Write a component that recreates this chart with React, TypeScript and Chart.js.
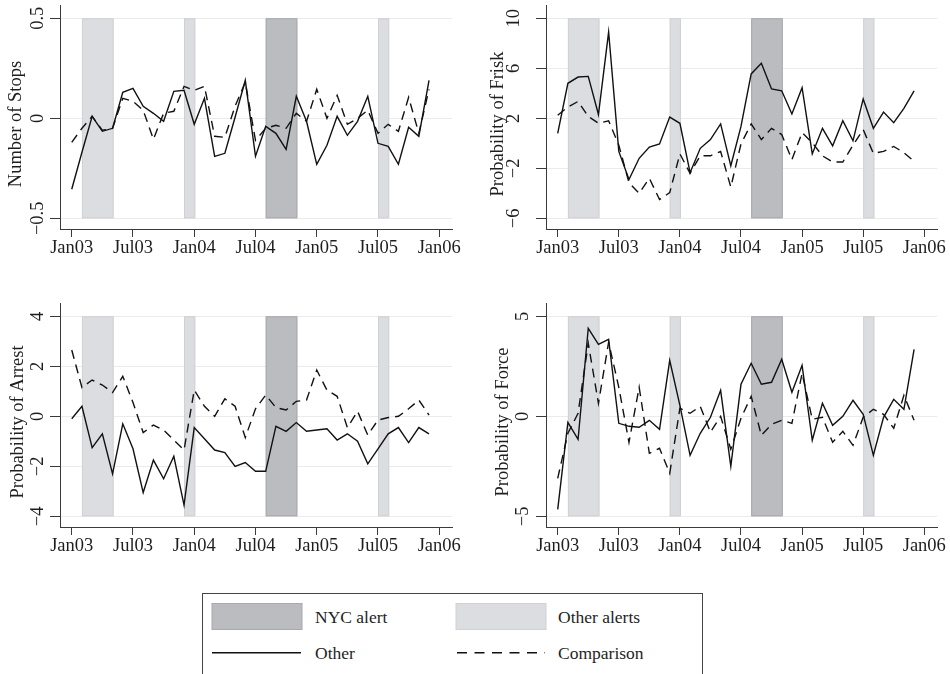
import React, { useEffect, useRef } from "react";
import { Chart, registerables } from "chart.js";

Chart.register(...registerables);

// Months Jan 2003 .. Dec 2005 (index 0..35)
const months = [
  "2003-01", "2003-02", "2003-03", "2003-04", "2003-05", "2003-06", "2003-07", "2003-08", "2003-09", "2003-10", "2003-11", "2003-12",
  "2004-01", "2004-02", "2004-03", "2004-04", "2004-05", "2004-06", "2004-07", "2004-08", "2004-09", "2004-10", "2004-11", "2004-12",
  "2005-01", "2005-02", "2005-03", "2005-04", "2005-05", "2005-06", "2005-07", "2005-08", "2005-09", "2005-10", "2005-11", "2005-12",
];

const xTickValues = [0, 6, 12, 18, 24, 30, 36];
const xTickLabels = ["Jan03", "Jul03", "Jan04", "Jul04", "Jan05", "Jul05", "Jan06"];

// Alert periods (month index)
const nycAlertStart = [19];
const nycAlertEnd = [22.1];
const otherAlertStart = [1, 11, 30];
const otherAlertEnd = [4.1, 12.1, 31.1];

// Number of Stops
const stopsOther = [
  -0.355, -0.17, 0.01, -0.065, -0.05, 0.13, 0.15, 0.06, 0.025, -0.015, 0.135, 0.14,
  -0.03, 0.1, -0.19, -0.175, 0.005, 0.19, -0.19, -0.04, -0.075, -0.155, 0.11, -0.015,
  -0.23, -0.135, 0.01, -0.085, -0.015, 0.11, -0.125, -0.14, -0.23, -0.045, -0.09, 0.19,
];
const stopsComparison = [
  -0.12, -0.05, 0.01, -0.06, -0.05, 0.1, 0.085, 0.04, -0.105, 0.025, 0.035, 0.16,
  0.14, 0.16, -0.09, -0.095, 0.06, 0.18, -0.11, -0.05, -0.035, -0.05, 0.025, -0.015,
  0.145, 0.0, 0.115, -0.03, 0.0, 0.04, -0.075, -0.03, -0.065, 0.105, -0.075, 0.145,
];
const stopsTicks = [-0.5, 0, 0.5];
const stopsTickLabels = ["\u22120.5", "0", "0.5"];

// Probability of Frisk
const friskOther = [
  0.8, 4.8, 5.3, 5.35, 2.3, 8.9, -0.65, -2.9, -1.2, -0.3, -0.05, 2.1,
  1.6, -2.35, -0.4, 0.3, 1.55, -1.8, 1.35, 5.55, 6.4, 4.35, 4.2, 2.35,
  4.45, -0.85, 1.2, -0.2, 1.8, 0.2, 3.55, 1.2, 2.5, 1.65, 2.8, 4.2,
];
const friskComparison = [
  2.25, 2.9, 3.35, 2.15, 1.6, 1.8, -0.15, -3.15, -4.0, -2.8, -4.5, -3.95,
  -0.85, -2.4, -1.0, -1.0, -0.65, -3.5, -0.05, 1.55, 0.3, 1.2, 0.7, -1.3,
  0.85, 0.05, -1.0, -1.5, -1.5, -0.15, 1.1, -0.8, -0.65, -0.25, -0.75, -1.45,
];
const friskTicks = [-6, -2, 2, 6, 10];
const friskTickLabels = ["\u22126", "\u22122", "2", "6", "10"];

// Probability of Arrest
const arrestOther = [
  -0.1, 0.4, -1.25, -0.7, -2.3, -0.3, -1.3, -3.05, -1.75, -2.5, -1.6, -3.55,
  -0.45, -0.9, -1.35, -1.45, -2.0, -1.85, -2.2, -2.2, -0.4, -0.6, -0.25, -0.6,
  -0.55, -0.5, -0.95, -0.7, -1.0, -1.9, -1.3, -0.7, -0.45, -1.05, -0.45, -0.7,
];
const arrestComparison = [
  2.65, 1.15, 1.45, 1.25, 0.95, 1.6, 0.55, -0.65, -0.35, -0.55, -0.95, -1.35,
  1.05, 0.4, 0.0, 0.7, 0.4, -0.85, 0.3, 0.85, 0.35, 0.25, 0.6, 0.65,
  1.85, 1.05, 0.8, -0.45, 0.2, -0.75, -0.15, -0.05, 0.0, 0.3, 0.65, 0.05,
];
const arrestTicks = [-4, -2, 0, 2, 4];
const arrestTickLabels = ["\u22124", "\u22122", "0", "2", "4"];

// Probability of Force
const forceOther = [
  -4.65, -0.3, -1.15, 4.4, 3.6, 3.85, -0.35, -0.5, -0.55, -0.2, -0.65, 2.8,
  0.55, -1.95, -0.85, -0.05, 1.3, -2.5, 1.6, 2.65, 1.6, 1.7, 2.85, 1.2,
  2.55, -1.2, 0.65, -0.45, 0.0, 0.8, 0.1, -1.95, -0.05, 0.85, 0.35, 3.35,
];
const forceComparison = [
  -3.1, -0.85, 0.15, 3.65, 0.65, 3.7, 1.45, -1.3, 1.45, -1.85, -1.6, -2.85,
  0.4, 0.15, 0.5, -0.8, 0.0, -1.65, -0.1, 1.0, -0.95, -0.4, -0.2, -0.35,
  2.15, -0.15, -0.05, -1.3, -0.75, -1.45, -0.05, 0.35, 0.1, -0.6, 1.05, -0.2,
];
const forceTicks = [-5, 0, 5];
const forceTickLabels = ["\u22125", "0", "5"];

const legendLabels = ["NYC alert", "Other alerts", "Other", "Comparison"];

const FONT = "'Liberation Serif', 'Times New Roman', Times, serif";
const TEXT = "#1e1e1e";
const AXIS = "#3a3a3a";
const NYC_FILL = "#bbbcc0";
const NYC_EDGE = "#a8a9ad";
const OTHER_FILL = "#dcdde0";
const OTHER_EDGE = "#d0d1d4";
const DASH = [9, 6];

type PanelSpec = {
  title: string;
  other: number[];
  comp: number[];
  ticks: number[];
  tickLabels: string[];
  yMin: number;
  yMax: number;
  left: number;
  top: number;
  axisWidth: number;
  rightPad: number;
  tickBaseline: number;
  titleBaseline: number;
};

const panels: PanelSpec[] = [
  { title: "Number of Stops", other: stopsOther, comp: stopsComparison, ticks: stopsTicks, tickLabels: stopsTickLabels, yMin: -0.5535, yMax: 0.5665, left: 0, top: 0, axisWidth: 60, rightPad: 23, tickBaseline: 43.3, titleBaseline: 21 },
  { title: "Probability of Frisk", other: friskOther, comp: friskComparison, ticks: friskTicks, tickLabels: friskTickLabels, yMin: -6.856, yMax: 11.064, left: 475, top: 0, axisWidth: 71, rightPad: 13, tickBaseline: 44, titleBaseline: 27.6 },
  { title: "Probability of Arrest", other: arrestOther, comp: arrestComparison, ticks: arrestTicks, tickLabels: arrestTickLabels, yMin: -4.428, yMax: 4.532, left: 0, top: 298, axisWidth: 60, rightPad: 23, tickBaseline: 43.3, titleBaseline: 22.6 },
  { title: "Probability of Force", other: forceOther, comp: forceComparison, ticks: forceTicks, tickLabels: forceTickLabels, yMin: -5.535, yMax: 5.665, left: 475, top: 298, axisWidth: 71, rightPad: 13, tickBaseline: 52.7, titleBaseline: 32.6 },
];

const CANVAS_W = 475;
const CANVAS_H = 270;
const X_AXIS_H = 41;

function Panel({ spec }: { spec: PanelSpec }) {
  const ref = useRef<HTMLCanvasElement | null>(null);
  useEffect(() => {
    if (!ref.current) return;
    const bandsPlugin = {
      id: "alertBands",
      beforeDatasetsDraw(chart: any) {
        const { ctx, scales } = chart;
        const xs = scales.x;
        const ys = scales.y;
        const yTop = ys.getPixelForValue(spec.ticks[spec.ticks.length - 1]);
        const yBot = ys.getPixelForValue(spec.ticks[0]);
        const drawBand = (s: number, e: number, fill: string, edge: string) => {
          const x0 = xs.getPixelForValue(s);
          const x1 = xs.getPixelForValue(e);
          ctx.save();
          ctx.fillStyle = fill;
          ctx.fillRect(x0, yTop, x1 - x0, yBot - yTop);
          ctx.strokeStyle = edge;
          ctx.lineWidth = 1;
          ctx.strokeRect(x0 + 0.5, yTop + 0.5, x1 - x0 - 1, yBot - yTop - 1);
          ctx.restore();
        };
        otherAlertStart.forEach((s, i) => drawBand(s, otherAlertEnd[i], OTHER_FILL, OTHER_EDGE));
        nycAlertStart.forEach((s, i) => drawBand(s, nycAlertEnd[i], NYC_FILL, NYC_EDGE));
      },
    };
    const yLabelsPlugin = {
      id: "yLabels",
      afterDraw(chart: any) {
        const { ctx, scales, chartArea } = chart;
        const ys = scales.y;
        ctx.save();
        ctx.fillStyle = TEXT;
        ctx.font = `18.5px ${FONT}`;
        ctx.textAlign = "center";
        ctx.textBaseline = "alphabetic";
        ys.ticks.forEach((t: any, i: number) => {
          const py = ys.getPixelForValue(t.value);
          ctx.save();
          ctx.translate(spec.tickBaseline, py);
          ctx.rotate(-Math.PI / 2);
          ctx.fillText(spec.tickLabels[i], 0, 0);
          ctx.restore();
        });
        const midY = (chartArea.top + chartArea.bottom) / 2 + 7;
        ctx.translate(spec.titleBaseline, midY);
        ctx.rotate(-Math.PI / 2);
        ctx.fillText(spec.title, 0, 0);
        ctx.restore();
      },
    };
    const chart = new Chart(ref.current, {
      type: "line",
      data: {
        datasets: [
          {
            label: legendLabels[2],
            data: months.map((_, i) => ({ x: i, y: spec.other[i] })),
            borderColor: "#111111",
            borderWidth: 1.4,
            pointRadius: 0,
            tension: 0,
            fill: false,
          },
          {
            label: legendLabels[3],
            data: months.map((_, i) => ({ x: i, y: spec.comp[i] })),
            borderColor: "#111111",
            borderWidth: 1.4,
            borderDash: DASH,
            pointRadius: 0,
            tension: 0,
            fill: false,
          },
        ],
      },
      options: {
        responsive: false,
        animation: false,
        devicePixelRatio: 1,
        layout: { padding: { top: 5, right: spec.rightPad, left: 0, bottom: 0 } },
        plugins: { legend: { display: false }, tooltip: { enabled: false } },
        scales: {
          x: {
            type: "linear",
            min: -1.15,
            max: 37.25,
            afterBuildTicks: (s: any) => {
              s.ticks = xTickValues.map((v) => ({ value: v }));
            },
            afterFit: (s: any) => {
              s.height = X_AXIS_H;
              s.paddingLeft = 0;
              s.paddingRight = 0;
            },
            ticks: {
              callback: (_v: any, i: number) => xTickLabels[i],
              font: { family: FONT, size: 18.5 },
              color: TEXT,
              padding: 0,
              maxRotation: 0,
              minRotation: 0,
              autoSkip: false,
            },
            grid: { drawOnChartArea: false, drawTicks: true, tickLength: 8, tickColor: AXIS, tickWidth: 1 },
            border: { display: true, color: AXIS, width: 1 },
          },
          y: {
            type: "linear",
            min: spec.yMin,
            max: spec.yMax,
            afterBuildTicks: (s: any) => {
              s.ticks = spec.ticks.map((v) => ({ value: v }));
            },
            afterFit: (s: any) => {
              s.width = spec.axisWidth;
              s.paddingTop = 0;
              s.paddingBottom = 0;
            },
            ticks: { display: false },
            grid: { color: "#ebebeb", lineWidth: 1, drawTicks: true, tickLength: 10, tickColor: AXIS, tickWidth: 1 },
            border: { display: true, color: AXIS, width: 1 },
          },
        },
      } as any,
      plugins: [bandsPlugin, yLabelsPlugin],
    });
    return () => chart.destroy();
  }, [spec]);
  return (
    <canvas
      ref={ref}
      width={CANVAS_W}
      height={CANVAS_H}
      style={{ position: "absolute", left: spec.left, top: spec.top, width: CANVAS_W, height: CANVAS_H }}
    />
  );
}

function Legend() {
  const fontStyle = { fontFamily: FONT, fontSize: "17.5px", fill: TEXT } as any;
  return (
    <svg width={950} height={674} style={{ position: "absolute", left: 0, top: 0 }}>
      <rect x={202.5} y={593.5} width={500} height={140} fill="#ffffff" stroke="#444444" strokeWidth={1} />
      <rect x={212} y={603.5} width={90} height={26} fill={NYC_FILL} stroke={NYC_EDGE} strokeWidth={1} />
      <text x={315} y={623} style={fontStyle}>{legendLabels[0]}</text>
      <rect x={456} y={603.5} width={90} height={26} fill={OTHER_FILL} stroke={OTHER_EDGE} strokeWidth={1} />
      <text x={558} y={623} style={fontStyle}>{legendLabels[1]}</text>
      <line x1={212} x2={301} y1={652.7} y2={652.7} stroke="#111111" strokeWidth={1.6} />
      <text x={315} y={658.5} style={fontStyle}>{legendLabels[2]}</text>
      <line x1={457} x2={545} y1={652.7} y2={652.7} stroke="#111111" strokeWidth={1.6} strokeDasharray="10 7.5" />
      <text x={558} y={658.5} style={fontStyle}>{legendLabels[3]}</text>
    </svg>
  );
}

export default function App() {
  return (
    <div
      style={{
        position: "fixed",
        left: 0,
        top: 0,
        width: 950,
        height: 674,
        overflow: "hidden",
        background: "#ffffff",
      }}
    >
      {panels.map((p, i) => (
        <Panel key={i} spec={p} />
      ))}
      <Legend />
    </div>
  );
}
